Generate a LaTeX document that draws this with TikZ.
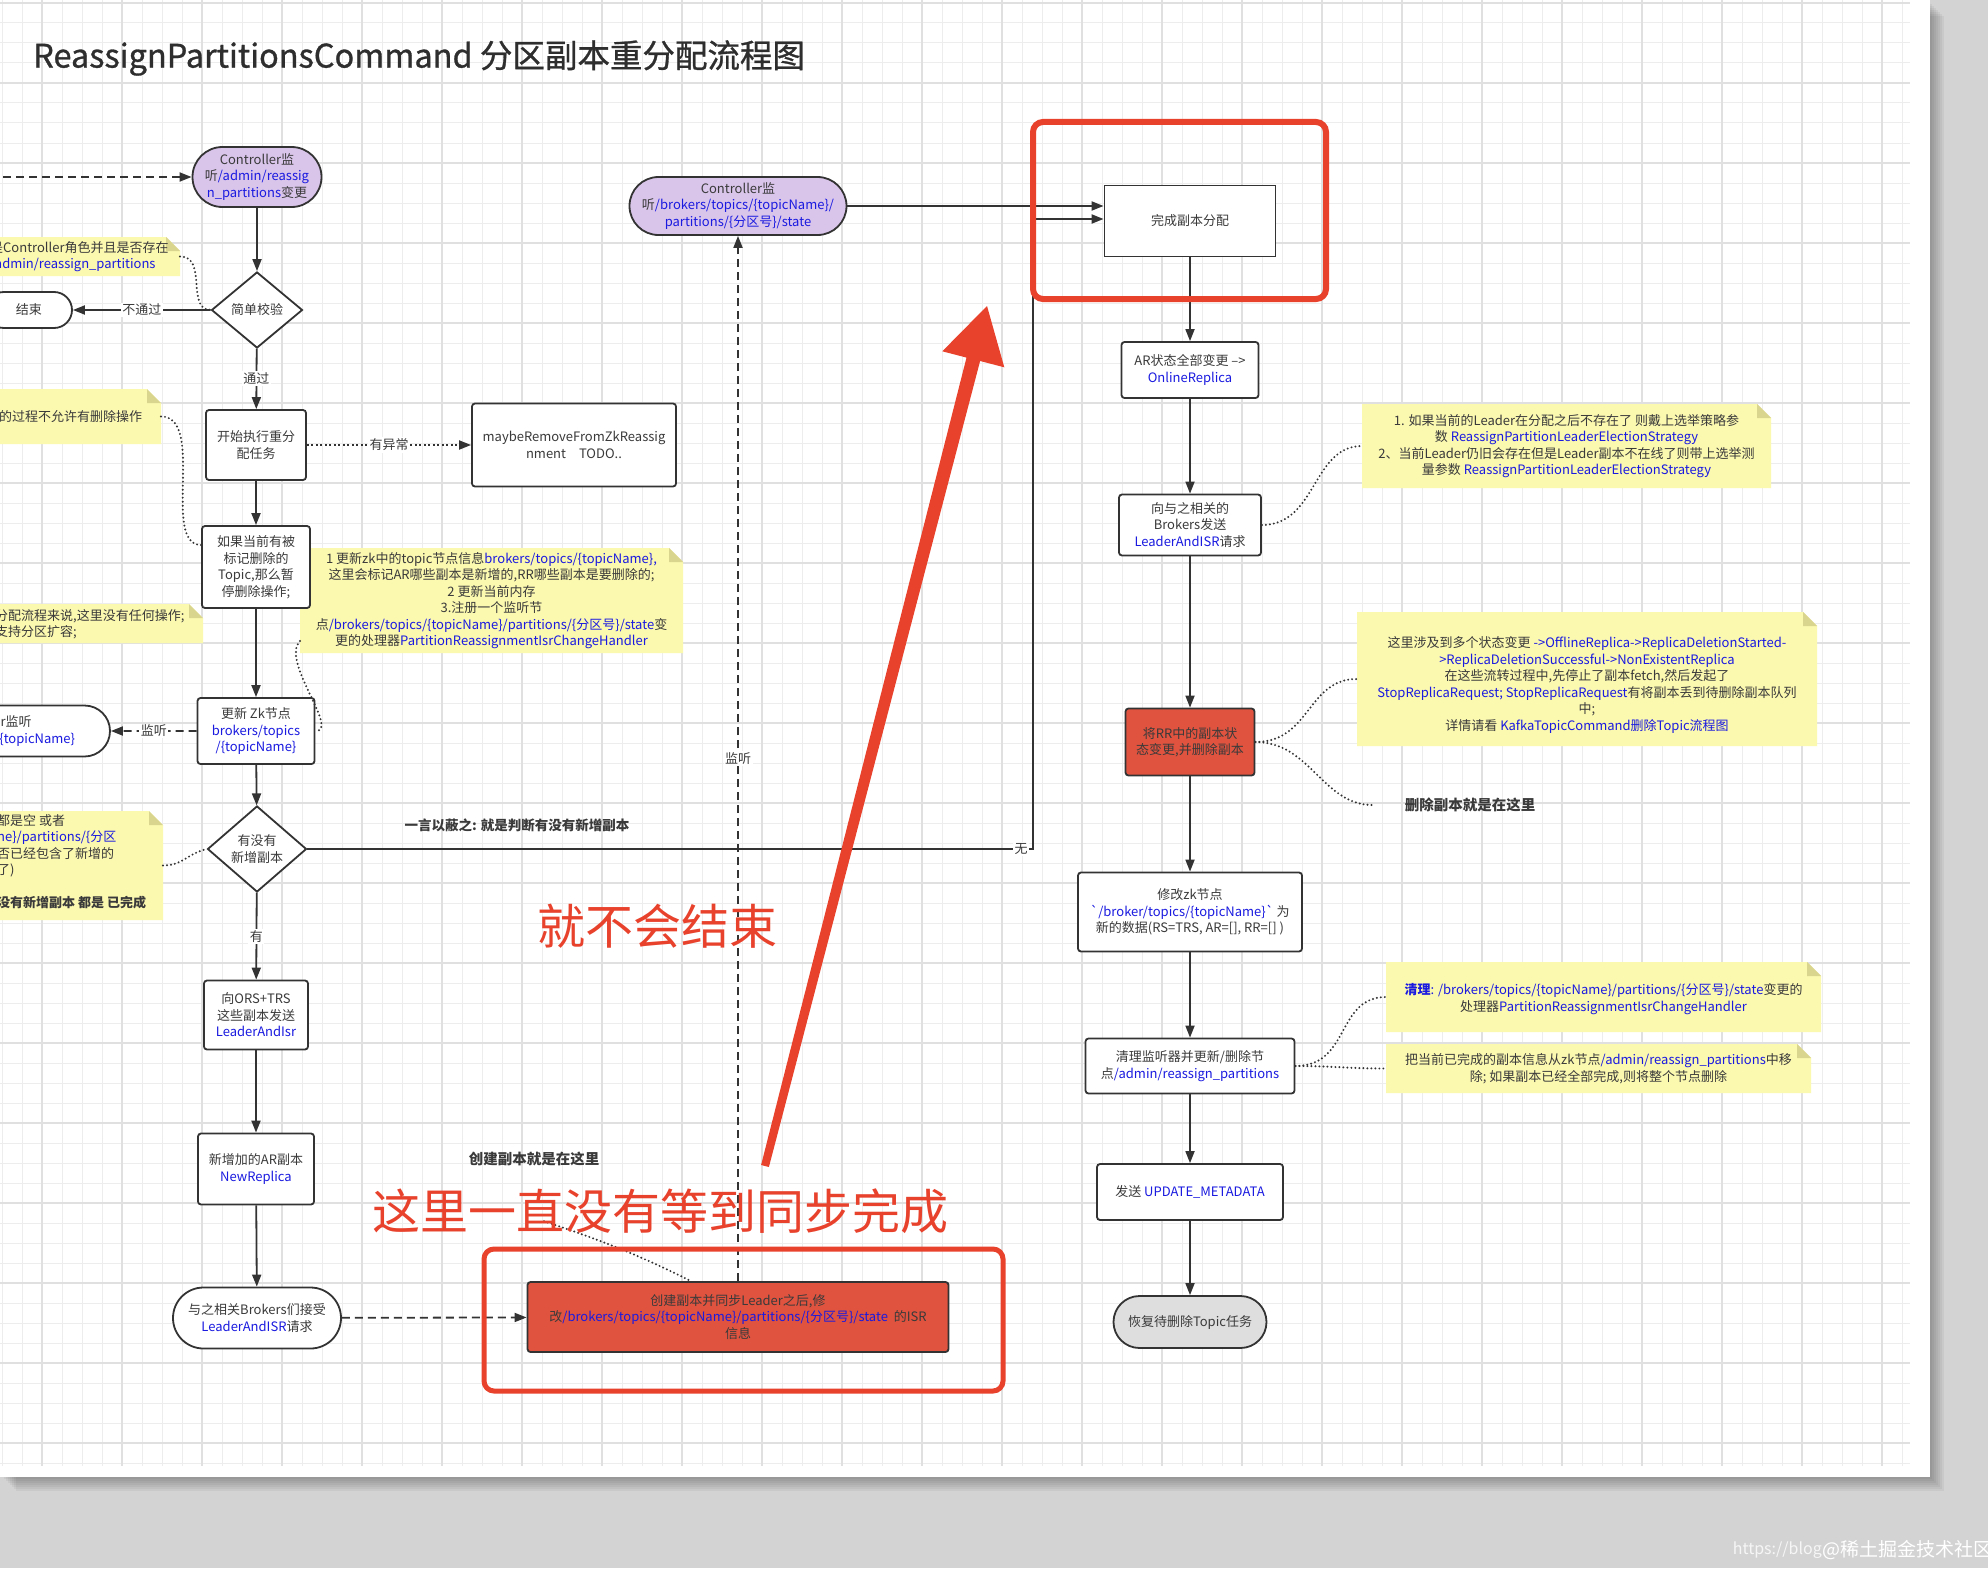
\documentclass[tikz,border=0pt]{standalone}
\usepackage{fontspec}
\setmainfont{Noto Sans CJK SC}
\newfontfamily\titlefont[FakeBold=0.9]{Noto Sans CJK SC}
\usetikzlibrary{arrows.meta,shapes.geometric,shapes.misc,calc}
\definecolor{ln}{HTML}{333333}
\definecolor{txt}{HTML}{3A3A3A}
\definecolor{bl}{HTML}{1A1AE0}
\definecolor{purp}{HTML}{D9C4EA}
\definecolor{redf}{HTML}{E0533F}
\definecolor{redl}{HTML}{E8412C}
\definecolor{notef}{HTML}{FBF8B0}
\definecolor{notek}{HTML}{D9D48E}
\definecolor{gridc}{HTML}{EDEDED}
\definecolor{gridm}{HTML}{E0E0E0}
\definecolor{bgc}{HTML}{D3D3D3}
\definecolor{grayf}{HTML}{DEDEDE}
\newcommand{\blu}[1]{\textcolor{bl}{#1}}
\newcommand{\myfs}[2]{\fontsize{#1}{#2}\selectfont}
\newcommand{\stickynote}[5]{%
  \fill[notef] (#2,#3) -- ({#4-14},#3) -- (#4,{#3+14}) -- (#4,#5) -- (#2,#5) -- cycle;
  \fill[notek] ({#4-14},#3) -- ({#4-14},{#3+14}) -- (#4,{#3+14}) -- cycle;
  \node[inner sep=0pt, outer sep=0pt, minimum width={(#4)*1pt-(#2)*1pt}, minimum height={(#5)*1pt-(#3)*1pt}] (#1) at ({(#2+#4)/2},{(#3+#5)/2}) {};
}
\begin{document}
\begin{tikzpicture}[x=1pt,y=-1pt,
  every node/.style={text=txt},
  base/.style={draw=ln, line width=1.8pt, align=center, inner sep=2pt, font=\myfs{13}{16.5}},
  box/.style={base, rectangle, rounded corners=3pt, fill=white},
  sbox/.style={base, rectangle, fill=white},
  stad/.style={base, rounded rectangle, fill=white},
  dia/.style={base, diamond, fill=white, inner sep=0pt},
  flow/.style={draw=ln, line width=1.8pt, -{Triangle[length=12pt,width=9pt]}},
  dflow/.style={flow, dash pattern=on 8pt off 5pt},
  oflow/.style={flow, dash pattern=on 2pt off 2.5pt},
  conn/.style={draw=ln, line width=2.2pt, line cap=round, dash pattern=on 0pt off 4pt},
  lab/.style={fill=white, inner sep=1.5pt, font=\myfs{13}{16.5}},
  notetext/.style={align=center, font=\myfs{13}{16.5}, inner sep=0pt},
  plain/.style={inner sep=0pt, font=\myfs{14.5}{18}\bfseries}
]
\useasboundingbox (0,0) rectangle (1988,1568);
\fill[bgc] (0,0) rectangle (1988,1568);
\foreach \k in {2,4,...,14} \fill[black,opacity=0.045] (\k+2,\k+2) rectangle (1930+\k,1477+\k);
\fill[white] (0,0) rectangle (1930,1477);
\foreach \gx in {2,22,...,1902} \draw[gridc, line width=1pt] (\gx,0) -- (\gx,1466);
\foreach \gy in {3,23,...,1463} \draw[gridc, line width=1pt] (0,\gy) -- (1910,\gy);
\foreach \gx in {42,122,...,1882} \draw[gridm, line width=1.6pt] (\gx,0) -- (\gx,1466);
\foreach \gy in {3,83,...,1443} \draw[gridm, line width=1.6pt] (0,\gy) -- (1910,\gy);

\begin{scope}
\clip (0,0) rectangle (1930,1477);

\node[anchor=west, font=\titlefont\fontsize{32.5}{40}\selectfont, text=black!82, inner sep=0pt] (title) at (33,58) {ReassignPartitionsCommand 分区副本重分配流程图};

% ---- notes ----
\stickynote{nA}{-60}{237}{180}{276}
\node[notetext, align=left, anchor=west] (nAt) at (-10,256.5) {是Controller角色并且是否存在\\\blu{/admin/reassign\_partitions}};
\stickynote{nB}{-60}{389}{161}{444}
\node[notetext, anchor=west] (nBt) at (-1,417) {的过程不允许有删除操作};
\stickynote{nC}{-60}{604}{203}{643}
\node[notetext, align=left, anchor=west] (nCt) at (-5,624) {分配流程来说,这里没有任何操作;\\支持分区扩容;};
\stickynote{nD}{-60}{811}{163}{920}
\node[notetext, align=left, anchor=north west] (nDt) at (-3,814) {都是空 或者\\\blu{ne\}/partitions/\{分区}\\否已经包含了新增的\\了)\\[16.5pt]{\bfseries 没有新增副本 都是 已完成}};
\stickynote{n1}{300}{548}{683}{653}
\node[notetext] (n1t) at (n1) {1 更新zk中的topic节点信息\blu{brokers/topics/\{topicName\},}\\这里会标记AR哪些副本是新增的,RR哪些副本是要删除的;\\2 更新当前内存\\3.注册一个监听节\\点\blu{/brokers/topics/\{topicName\}/partitions/\{分区号\}/state}变\\更的处理器\blu{PartitionReassignmentIsrChangeHandler}};
\stickynote{nL}{1362}{404}{1771}{488}
\node[notetext] (nLt) at (nL) {1. 如果当前的Leader在分配之后不存在了 则戴上选举策略参\\数 \blu{ReassignPartitionLeaderElectionStrategy}\\2、当前Leader仍旧会存在但是Leader副本不在线了则带上选举测\\量参数 \blu{ReassignPartitionLeaderElectionStrategy}};
\stickynote{nDel}{1357}{612}{1817}{746}
\node[notetext] (nDelt) at ($(nDel)+(0,6)$) {这里涉及到多个状态变更 \blu{->OfflineReplica->ReplicaDeletionStarted-}\\\blu{>ReplicaDeletionSuccessful->NonExistentReplica}\\在这些流转过程中,先停止了副本fetch,然后发起了\\\blu{StopReplicaRequest; StopReplicaRequest}有将副本丢到待删除副本队列\\中;\\详情请看 \blu{KafkaTopicCommand删除Topic流程图}};
\stickynote{nC1}{1386}{962}{1821}{1032}
\node[notetext] (nC1t) at ($(nC1)+(0,2)$) {\blu{\bfseries 清理}\blu{: /brokers/topics/\{topicName\}/partitions/\{分区号\}/state}变更的\\处理器\blu{PartitionReassignmentIsrChangeHandler}};
\stickynote{nC2}{1386}{1044}{1811}{1093}
\node[notetext] (nC2t) at (nC2) {把当前已完成的副本信息从zk节点\blu{/admin/reassign\_partitions}中移\\除; 如果副本已经全部完成,则将整个节点删除};

% ---- left column ----
\node[stad, fill=purp, minimum width=133pt, minimum height=60pt] (c1) at (257,177) {Controller监\\听\blu{/admin/reassig}\\\blu{n\_partitions}变更};
\node[dia, minimum width=91pt, minimum height=76pt] (d1) at (257,310) {简单校验};
\node[stad, minimum width=90pt, minimum height=36pt] (endn) at (29,310) {结束};
\node[box, minimum width=100pt, minimum height=70pt] (b1) at (256,445) {开始执行重分\\配任务};
\node[box, minimum width=204pt, minimum height=83pt] (maybe) at (574,445) {maybeRemoveFromZkReassig\\nment\quad TODO..};
\node[box, minimum width=108pt, minimum height=82pt] (b2) at (256,567) {如果当前有被\\标记删除的\\Topic,那么暂\\停删除操作;};
\node[box, minimum width=117pt, minimum height=66pt] (b3) at (256,731) {更新 Zk节点\\\blu{brokers/topics}\\\blu{/\{topicName\}}};
\node[stad, minimum width=248pt, minimum height=51pt] (c2) at (-12,731) {Controller监听\\\blu{/brokers/topics/\{topicName\}}};
\node[dia, minimum width=99pt, minimum height=86pt] (d2) at (257,849) {有没有\\新增副本};
\node[box, minimum width=104pt, minimum height=69pt] (b4) at (256,1015) {向ORS+TRS\\这些副本发送\\\blu{LeaderAndIsr}};
\node[box, minimum width=116pt, minimum height=71pt] (b5) at (256,1169) {新增加的AR副本\\\blu{NewReplica}};
\node[stad, minimum width=172pt, minimum height=61pt] (st3) at (257,1318) {与之相关Brokers们接受\\\blu{LeaderAndISR}请求};
\node[box, fill=redf, minimum width=421pt, minimum height=70pt] (rb) at (738,1317) {创建副本并同步Leader之后,修\\改\blu{/brokers/topics/\{topicName\}/partitions/\{分区号\}/state}\ \ 的ISR\\信息};
\node[stad, fill=purp, minimum width=221pt, minimum height=58pt] (c3) at (738,206) {Controller监\\听\blu{/brokers/topics/\{topicName\}/}\\\blu{partitions/\{分区号\}/state}};

% ---- right column ----
\node[sbox, minimum width=171pt, minimum height=71pt] (done) at (1190,221) {完成副本分配};
\node[box, minimum width=137pt, minimum height=56pt] (ar) at (1190,370) {AR状态全部变更 \textendash>\\\blu{OnlineReplica}};
\node[box, minimum width=142pt, minimum height=61pt] (send) at (1190,525) {向与之相关的\\Brokers发送\\\blu{LeaderAndISR}请求};
\node[box, fill=redf, minimum width=129pt, minimum height=67pt] (rr) at (1190,742) {将RR中的副本状\\态变更,并删除副本};
\node[box, minimum width=224pt, minimum height=79pt] (zk) at (1190,912) {修改zk节点\\\blu{\textasciigrave/broker/topics/\{topicName\}\textasciigrave} 为\\新的数据(RS=TRS, AR=[], RR=[] )};
\node[box, minimum width=209pt, minimum height=55pt] (clean) at (1190,1066) {清理监听器并更新/删除节\\点\blu{/admin/reassign\_partitions}};
\node[box, minimum width=186pt, minimum height=56pt] (meta) at (1190,1192) {发送 \blu{UPDATE\_METADATA}};
\node[stad, fill=grayf, minimum width=157pt, minimum height=52pt] (resume) at (1190,1322) {恢复待删除Topic任务};

% ---- free texts ----
\node[plain, font=\myfs{13.5}{16}\bfseries] (sum) at (517,825) {一言以蔽之: 就是判断有没有新增副本};
\node[plain] (crt) at (534,1159) {创建副本就是在这里};
\node[plain, inner xsep=0pt] (delt) at (1470,805) {删除副本就是在这里};

% ---- flow connectors ----
\coordinate (lin) at (-10,177);
\coordinate (nox) at (1033,219);
\draw[dflow] (lin) -- (c1);
\draw[flow] (c1) -- (d1);
\draw[flow] (d1) -- node[lab]{不通过} (endn);
\draw[flow] (d1) -- node[lab]{通过} (b1);
\draw[oflow] (b1) -- node[lab]{有异常} (maybe);
\draw[flow] (b1) -- (b2);
\draw[flow] (b2) -- (b3);
\draw[dflow] (b3) -- node[lab]{监听} (c2);
\draw[flow] (b3) -- (d2);
\draw[flow] (d2) -- node[lab]{有} (b4);
\draw[flow] (b4) -- (b5);
\draw[flow] (b5) -- (st3);
\draw[dflow] (st3) -- (rb);
\draw[dflow] (rb) -- node[lab]{监听} (c3);
\draw[flow] (c3.east) -- (c3.east -| done.west);
\draw[flow] (d2.east) -| (nox) -- (nox -| done.west);
\node[lab] (wu) at (1021,849) {无};
\draw[flow] (done) -- (ar);
\draw[flow] (ar) -- (send);
\draw[flow] (send) -- (rr);
\draw[flow] (rr) -- (zk);
\draw[flow] (zk) -- (clean);
\draw[flow] (clean) -- (meta);
\draw[flow] (meta) -- (resume);

% ---- note connectors ----
\draw[conn] (nA.east) .. controls +(28,0) and +(-25,0) .. (d1.west);
\draw[conn] (nB.east) .. controls +(45,0) and +(-40,0) .. ($(b2.west)+(0,-22)$);
\draw[conn] ($(n1.south west)+(0,-12)$) .. controls +(-20,20) and +(25,0) .. (b3.east);
\draw[conn] (nD.east) .. controls +(20,0) and +(-20,5) .. (d2.west);
\draw[conn] (send.east) .. controls +(55,0) and +(-50,0) .. (nL.west);
\draw[conn] (rr.east) .. controls +(55,0) and +(-50,0) .. (nDel.west);
\draw[conn] (rr.east) .. controls +(55,0) and +(-50,0) .. ($(delt.west)+(-32,0)$);
\draw[conn] (clean.east) .. controls +(55,0) and +(-50,0) .. (nC1.west);
\draw[conn] (clean.east) .. controls +(40,0) and +(-40,0) .. (nC2.west);
\draw[conn] ($(crt.south)+(10,55)$) .. controls +(60,20) and +(-50,-25) .. ($(rb.north)+(-47,0)$);

% ---- red highlights ----
\draw[redl, line width=6pt, rounded corners=10pt] (1033,122) rectangle (1326,299);
\draw[redl, line width=5pt, rounded corners=10pt] (484,1249) rectangle (1003,1391);
\node[inner sep=0pt, font=\myfs{48}{56}, text=redl] (bigA) at (657,926) {就不会结束};
\node[inner sep=0pt, font=\myfs{48}{56}, text=redl] (bigB) at (660,1211) {这里一直没有等到同步完成};
\fill[redl] (987,306) -- (1004.3,367.3) -- (980.1,361.0) -- (768.9,1167.0) -- (761.1,1165.0) -- (966.5,357.6) -- (942.3,351.3) -- cycle;
\end{scope}

\node[anchor=east, inner sep=0pt, font=\myfs{16}{20}, text=white, opacity=0.8] (wm1) at (1822,1550) {https://blog};
\node[anchor=west, inner sep=0pt, font=\myfs{19}{22}, text=white] (wm2) at (1822,1550) {@稀土掘金技术社区};
\end{tikzpicture}
\end{document}
